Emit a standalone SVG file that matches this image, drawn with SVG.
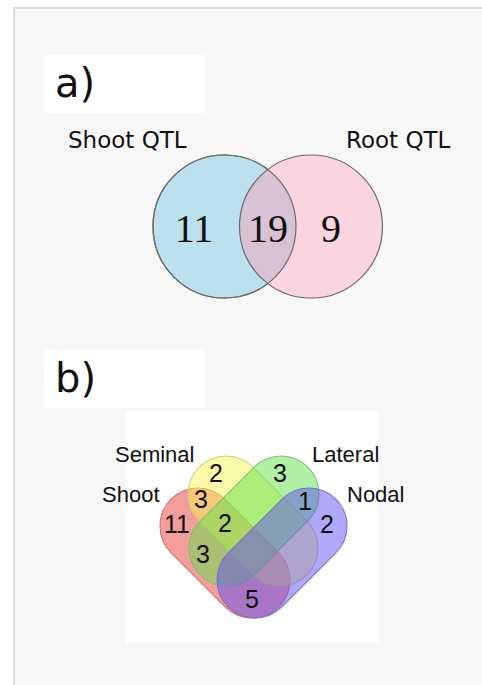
<svg xmlns="http://www.w3.org/2000/svg" xmlns:xlink="http://www.w3.org/1999/xlink" width="482" height="685" viewBox="0 0 482 685">
  <style>
    .lbl { font-family: "DejaVu Sans", Verdana, sans-serif; fill: #111; }
    .num { font-family: "Liberation Serif", "Times New Roman", serif; font-size: 40px; fill: #111; text-anchor: middle; }
    .qlbl { font-family: "Liberation Sans", Arial, sans-serif; font-size: 22px; fill: #111; }
    .qnum { font-family: "Liberation Sans", Arial, sans-serif; font-size: 25px; fill: #111; text-anchor: middle; }
    .circ { stroke: #6a6a6a; stroke-width: 1.2; }
    .set { fill-opacity: 0.5; stroke-width: 1; }
  </style>
  <defs>
    <clipPath id="clipShoot">
      <circle cx="224.5" cy="226.5" r="71.5"/>
    </clipPath>
    <!-- one stadium shape shared by the four sets -->
    <rect id="stadium" x="-76.2" y="-38" width="152.4" height="76" rx="38"/>
  </defs>

  <!-- page and panel -->
  <rect x="0" y="0" width="482" height="685" fill="#ffffff"/>
  <rect x="14" y="8" width="470" height="680" fill="#f7f7f7" stroke="#d4d4d4" stroke-width="1.5"/>

  <!-- panel a -->
  <g id="label-a">
    <rect x="44" y="55" width="161" height="58" fill="#ffffff"/>
    <text class="lbl" x="55" y="97" font-size="40">a)</text>
  </g>

  <g id="set-shoot-qtl">
    <circle class="circ" cx="224.5" cy="226.5" r="71.5" fill="#bde0ef"/>
    <text class="lbl" x="68" y="148" font-size="23">Shoot QTL</text>
  </g>
  <g id="set-root-qtl">
    <circle cx="311" cy="226.5" r="71.5" fill="#fad4de"/>
    <circle cx="311" cy="226.5" r="71.5" fill="#dac2d5" clip-path="url(#clipShoot)"/>
    <circle class="circ" cx="224.5" cy="226.5" r="71.5" fill="none"/>
    <circle class="circ" cx="311" cy="226.5" r="71.5" fill="none"/>
    <text class="lbl" x="346" y="148" font-size="23">Root QTL</text>
  </g>
  <g id="counts-a">
    <text class="num" x="194" y="242">11</text>
    <text class="num" x="268" y="242">19</text>
    <text class="num" x="331" y="242">9</text>
  </g>

  <!-- panel b -->
  <g id="label-b">
    <rect x="44" y="349" width="161" height="59" fill="#ffffff"/>
    <text class="lbl" x="55" y="392" font-size="40">b)</text>
  </g>

  <rect x="126" y="411" width="253" height="232" fill="#ffffff"/>

  <g id="set-shoot">
    <use href="#stadium" xlink:href="#stadium" class="set" fill="#e83c3c" stroke="#d06a6a" transform="translate(225,553) rotate(45)"/>
  </g>
  <g id="set-seminal">
    <use href="#stadium" xlink:href="#stadium" class="set" fill="#f5f555" stroke="#d0d070" transform="translate(253,521) rotate(45)"/>
  </g>
  <g id="set-lateral">
    <use href="#stadium" xlink:href="#stadium" class="set" fill="#5fe14b" stroke="#80c070" transform="translate(254,521) rotate(-45)"/>
  </g>
  <g id="set-nodal">
    <use href="#stadium" xlink:href="#stadium" class="set" fill="#5f50f0" stroke="#7070d0" transform="translate(282,553) rotate(-45)"/>
  </g>

  <g id="set-labels-b">
    <text class="qlbl" x="115" y="462">Seminal</text>
    <text class="qlbl" x="312" y="462">Lateral</text>
    <text class="qlbl" x="102" y="502">Shoot</text>
    <text class="qlbl" x="347" y="502">Nodal</text>
  </g>
  <g id="counts-b">
    <text class="qnum" x="216" y="482">2</text>
    <text class="qnum" x="280" y="482">3</text>
    <text class="qnum" x="201" y="508">3</text>
    <text class="qnum" x="305" y="510">1</text>
    <text class="qnum" x="177" y="533">11</text>
    <text class="qnum" x="225" y="532">2</text>
    <text class="qnum" x="327" y="533">2</text>
    <text class="qnum" x="203" y="563">3</text>
    <text class="qnum" x="252" y="608">5</text>
  </g>
</svg>
